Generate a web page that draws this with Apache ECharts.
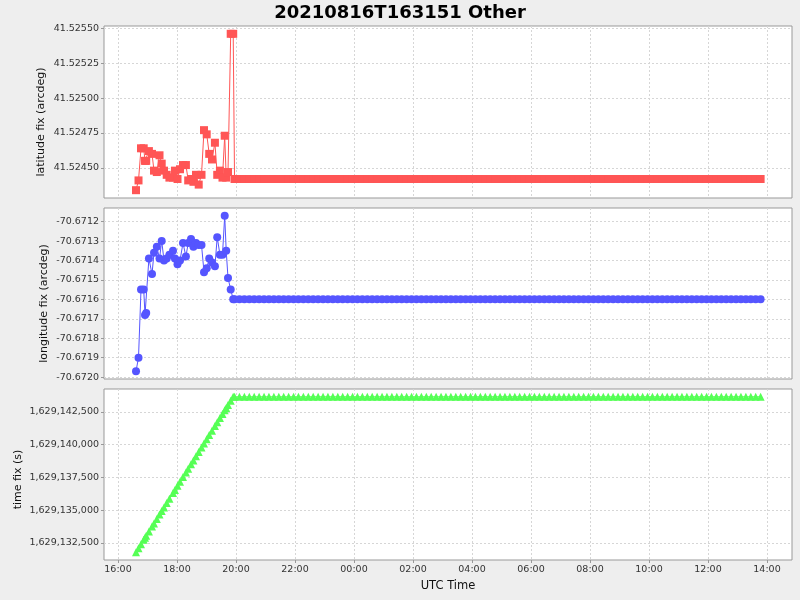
<!DOCTYPE html>
<html>
<head>
<meta charset="utf-8">
<script src="https://cdn.jsdelivr.net/npm/echarts@6/dist/echarts.min.js"></script>
<style>
html,body{margin:0;padding:0;background:#eeeeee;}
#chart{width:800px;height:600px;}
</style>
</head>
<body>
<div id="chart"></div>
<script>
// ---------------- DATA ----------------
const titleText = '20210816T163151 Other';

// record times (UTC), starting 2021-08-16, wrapping past midnight into 2021-08-17
const times = [
  '16:36:37','16:41:42','16:46:47','16:52:16','16:54:55','16:57:22','17:02:51','17:09:09','17:13:13','17:18:55',
  '17:24:24','17:28:53','17:33:34','17:39:03','17:44:32','17:51:52','17:55:44','18:01:01','18:06:06','18:12:12',
  '18:18:06','18:22:47','18:28:29','18:33:22','18:38:39','18:44:08','18:49:50','18:54:55','19:00:24','19:05:30',
  '19:11:12','19:17:06','19:21:47','19:27:16','19:32:30','19:37:01','19:40:04','19:43:44','19:49:13','19:54:18',
  '19:57','20:07','20:17','20:27','20:37','20:47','20:57','21:07','21:17','21:27','21:37','21:47',
  '21:57','22:07','22:17','22:27','22:37','22:47','22:57','23:07','23:17','23:27','23:37','23:47',
  '23:57','00:07','00:17','00:27','00:37','00:47','00:57','01:07','01:17','01:27','01:37','01:47',
  '01:57','02:07','02:17','02:27','02:37','02:47','02:57','03:07','03:17','03:27','03:37','03:47',
  '03:57','04:07','04:17','04:27','04:37','04:47','04:57','05:07','05:17','05:27','05:37','05:47',
  '05:57','06:07','06:17','06:27','06:37','06:47','06:57','07:07','07:17','07:27','07:37','07:47',
  '07:57','08:07','08:17','08:27','08:37','08:47','08:57','09:07','09:17','09:27','09:37','09:47',
  '09:57','10:07','10:17','10:27','10:37','10:47','10:57','11:07','11:17','11:27','11:37','11:47',
  '11:57','12:07','12:17','12:27','12:37','12:47','12:57','13:07','13:17','13:27','13:37','13:47'
];

const latitudeFix = [
  41.52434,41.52441,41.52464,41.52464,41.52455,41.52455,41.52462,41.52460,41.52448,41.52447,
  41.52459,41.52453,41.52448,41.52445,41.52443,41.52443,41.52448,41.52442,41.52449,41.52452,
  41.52452,41.52441,41.52442,41.52440,41.52445,41.52438,41.52445,41.52477,41.52474,41.52460,
  41.52456,41.52468,41.52445,41.52448,41.52443,41.52473,41.52443,41.52447,41.52546,41.52546,
  41.52442,41.52442,41.52442,41.52442,41.52442,41.52442,41.52442,41.52442,41.52442,41.52442,41.52442,41.52442,
  41.52442,41.52442,41.52442,41.52442,41.52442,41.52442,41.52442,41.52442,41.52442,41.52442,41.52442,41.52442,
  41.52442,41.52442,41.52442,41.52442,41.52442,41.52442,41.52442,41.52442,41.52442,41.52442,41.52442,41.52442,
  41.52442,41.52442,41.52442,41.52442,41.52442,41.52442,41.52442,41.52442,41.52442,41.52442,41.52442,41.52442,
  41.52442,41.52442,41.52442,41.52442,41.52442,41.52442,41.52442,41.52442,41.52442,41.52442,41.52442,41.52442,
  41.52442,41.52442,41.52442,41.52442,41.52442,41.52442,41.52442,41.52442,41.52442,41.52442,41.52442,41.52442,
  41.52442,41.52442,41.52442,41.52442,41.52442,41.52442,41.52442,41.52442,41.52442,41.52442,41.52442,41.52442,
  41.52442,41.52442,41.52442,41.52442,41.52442,41.52442,41.52442,41.52442,41.52442,41.52442,41.52442,41.52442,
  41.52442,41.52442,41.52442,41.52442,41.52442,41.52442,41.52442,41.52442,41.52442,41.52442,41.52442,41.52442
];

const longitudeFix = [
  -70.67197,-70.67190,-70.67155,-70.67155,-70.67168,-70.67167,-70.67139,-70.67147,-70.67136,-70.67133,
  -70.67139,-70.67130,-70.67140,-70.67139,-70.67137,-70.67135,-70.67139,-70.67142,-70.67140,-70.67131,
  -70.67138,-70.67131,-70.67129,-70.67133,-70.67131,-70.67132,-70.67132,-70.67146,-70.67144,-70.67139,
  -70.67141,-70.67143,-70.67128,-70.67137,-70.67137,-70.67117,-70.67135,-70.67149,-70.67155,-70.67160,
  -70.6716,-70.6716,-70.6716,-70.6716,-70.6716,-70.6716,-70.6716,-70.6716,-70.6716,-70.6716,-70.6716,-70.6716,
  -70.6716,-70.6716,-70.6716,-70.6716,-70.6716,-70.6716,-70.6716,-70.6716,-70.6716,-70.6716,-70.6716,-70.6716,
  -70.6716,-70.6716,-70.6716,-70.6716,-70.6716,-70.6716,-70.6716,-70.6716,-70.6716,-70.6716,-70.6716,-70.6716,
  -70.6716,-70.6716,-70.6716,-70.6716,-70.6716,-70.6716,-70.6716,-70.6716,-70.6716,-70.6716,-70.6716,-70.6716,
  -70.6716,-70.6716,-70.6716,-70.6716,-70.6716,-70.6716,-70.6716,-70.6716,-70.6716,-70.6716,-70.6716,-70.6716,
  -70.6716,-70.6716,-70.6716,-70.6716,-70.6716,-70.6716,-70.6716,-70.6716,-70.6716,-70.6716,-70.6716,-70.6716,
  -70.6716,-70.6716,-70.6716,-70.6716,-70.6716,-70.6716,-70.6716,-70.6716,-70.6716,-70.6716,-70.6716,-70.6716,
  -70.6716,-70.6716,-70.6716,-70.6716,-70.6716,-70.6716,-70.6716,-70.6716,-70.6716,-70.6716,-70.6716,-70.6716,
  -70.6716,-70.6716,-70.6716,-70.6716,-70.6716,-70.6716,-70.6716,-70.6716,-70.6716,-70.6716,-70.6716,-70.6716
];

const timeFix = [
  1629131797,1629132102,1629132407,1629132736,1629132895,1629133042,1629133371,1629133749,1629133993,1629134335,
  1629134664,1629134933,1629135214,1629135543,1629135872,1629136312,1629136544,1629136861,1629137166,1629137532,
  1629137886,1629138167,1629138509,1629138802,1629139119,1629139448,1629139790,1629140095,1629140424,1629140730,
  1629141072,1629141426,1629141707,1629142036,1629142350,1629142621,1629142804,1629143024,1629143353,1629143658,
  1629143658,1629143658,1629143658,1629143658,1629143658,1629143658,1629143658,1629143658,1629143658,1629143658,1629143658,1629143658,
  1629143658,1629143658,1629143658,1629143658,1629143658,1629143658,1629143658,1629143658,1629143658,1629143658,1629143658,1629143658,
  1629143658,1629143658,1629143658,1629143658,1629143658,1629143658,1629143658,1629143658,1629143658,1629143658,1629143658,1629143658,
  1629143658,1629143658,1629143658,1629143658,1629143658,1629143658,1629143658,1629143658,1629143658,1629143658,1629143658,1629143658,
  1629143658,1629143658,1629143658,1629143658,1629143658,1629143658,1629143658,1629143658,1629143658,1629143658,1629143658,1629143658,
  1629143658,1629143658,1629143658,1629143658,1629143658,1629143658,1629143658,1629143658,1629143658,1629143658,1629143658,1629143658,
  1629143658,1629143658,1629143658,1629143658,1629143658,1629143658,1629143658,1629143658,1629143658,1629143658,1629143658,1629143658,
  1629143658,1629143658,1629143658,1629143658,1629143658,1629143658,1629143658,1629143658,1629143658,1629143658,1629143658,1629143658,
  1629143658,1629143658,1629143658,1629143658,1629143658,1629143658,1629143658,1629143658,1629143658,1629143658,1629143658,1629143658
];

const xTickLabels = ['16:00','18:00','20:00','22:00','00:00','02:00','04:00','06:00','08:00','10:00','12:00','14:00'];
const latTicks = [41.52450, 41.52475, 41.52500, 41.52525, 41.52550];
const lonTicks = [-70.6720, -70.6719, -70.6718, -70.6717, -70.6716, -70.6715, -70.6714, -70.6713, -70.6712];
const timeFixTicks = [1629132500, 1629135000, 1629137500, 1629140000, 1629142500];

const xRange = ['15:31:30', '14:50:50'];
const latRange = [41.524284, 41.525516];
const lonRange = [-70.67201, -70.67113];
const timeFixRange = [1629131200, 1629144250];

// ---------------- BUILD ----------------
function toMs(list) {
  let day = 16, prev = -1;
  return list.map(s => {
    const p = s.split(':').map(Number);
    const secs = p[0] * 3600 + p[1] * 60 + (p[2] || 0);
    if (secs < prev) day++;
    prev = secs;
    return Date.UTC(2021, 7, day, p[0], p[1], p[2] || 0);
  });
}
const xMs = toMs(times);
const xTickMs = toMs(xTickLabels);
const xRangeMs = toMs(xRange);

const pad = n => (n < 10 ? '0' : '') + n;
const fmtTime = v => { const d = new Date(v); return pad(d.getUTCHours()) + ':' + pad(d.getUTCMinutes()); };

const FONT = 'DejaVu Sans';
const gridL = 104, gridW = 688;
const grids = [
  { left: gridL, width: gridW, top: 26, height: 172 },
  { left: gridL, width: gridW, top: 208, height: 171 },
  { left: gridL, width: gridW, top: 389, height: 171 }
].map(g => Object.assign(g, { show: true, backgroundColor: '#ffffff', borderColor: '#999999', borderWidth: 1, containLabel: false }));

const splitLineStyle = { show: true, lineStyle: { color: '#d6d6d6', type: [2, 2], width: 1 } };

function xAxis(i, showLabels) {
  return {
    type: 'value', gridIndex: i,
    min: xRangeMs[0], max: xRangeMs[1],
    axisLine: { show: false },
    axisTick: { show: showLabels, customValues: xTickMs, length: 3, lineStyle: { color: '#999999' } },
    axisLabel: { show: showLabels, customValues: xTickMs, formatter: fmtTime, fontFamily: FONT, fontSize: 9.5, color: '#333', margin: 5 },
    splitLine: splitLineStyle,
    name: showLabels ? 'UTC Time' : '', nameLocation: 'middle', nameGap: 20, nameMoveOverlap: false,
    nameTextStyle: { fontFamily: FONT, fontSize: 11.5, color: '#111' }
  };
}
function yAxis(i, range, ticks, fmt, name, gap, shift) {
  return {
    type: 'value', gridIndex: i, min: range[0], max: range[1], scale: true,
    axisLine: { show: false },
    axisTick: { show: true, customValues: ticks, length: 3, lineStyle: { color: '#999999' } },
    axisLabel: { customValues: ticks, formatter: fmt, fontFamily: FONT, fontSize: 9.5, color: '#333', margin: 5 },
    splitLine: splitLineStyle,
    name: name, nameLocation: 'middle', nameGap: gap, nameMoveOverlap: false,
    nameTextStyle: { fontFamily: FONT, fontSize: 11, color: '#111', padding: [0, shift, 0, 0] }
  };
}

function series(i, vals, color, symbol) {
  return {
    type: 'line', xAxisIndex: i, yAxisIndex: i,
    data: xMs.map((t, k) => [t, vals[k]]),
    symbol: symbol, symbolSize: 8, showSymbol: true, showAllSymbol: true,
    lineStyle: { color: color, width: 1 },
    itemStyle: { color: color, borderWidth: 0 },
    emphasis: { disabled: true }
  };
}

const chart = echarts.init(document.getElementById('chart'), null, { renderer: 'canvas' });
chart.setOption({
  animation: false,
  backgroundColor: '#eeeeee',
  title: {
    text: titleText, left: 'center', top: -1,
    textStyle: { fontFamily: FONT, fontSize: 18, fontWeight: 'bold', color: '#000' }
  },
  grid: grids,
  xAxis: [xAxis(0, false), xAxis(1, false), xAxis(2, true)],
  yAxis: [
    yAxis(0, latRange, latTicks, v => v.toFixed(5), 'latitude fix (arcdeg)', 57, 20),
    yAxis(1, lonRange, lonTicks, v => v.toFixed(4), 'longitude fix (arcdeg)', 54, 20),
    yAxis(2, timeFixRange, timeFixTicks, v => Math.round(v).toLocaleString('en-US'), 'time fix (s)', 80, 10)
  ],
  series: [
    series(0, latitudeFix, '#ff5555', 'rect'),
    series(1, longitudeFix, '#5555ff', 'circle'),
    series(2, timeFix, '#55ff55', 'triangle')
  ]
});
</script>
</body>
</html>
